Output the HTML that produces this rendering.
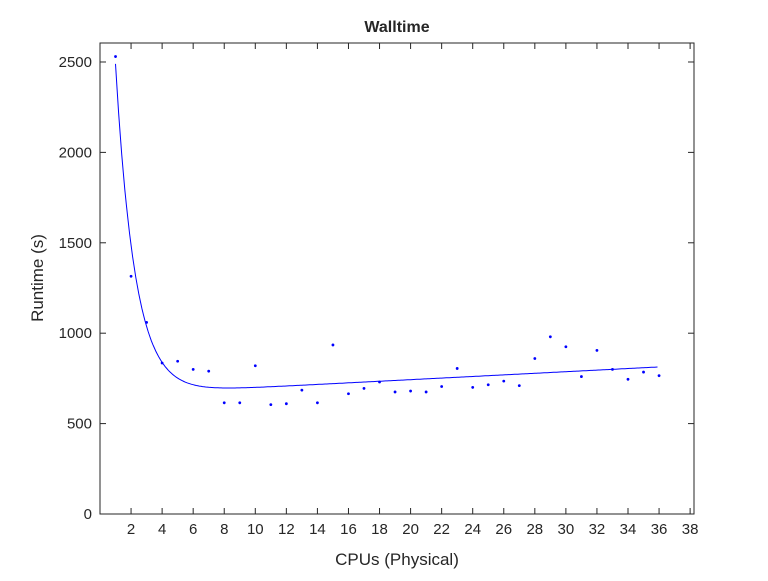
<!DOCTYPE html>
<html><head><meta charset="utf-8"><style>
html,body{margin:0;padding:0;background:#fff;}
svg text{font-family:"Liberation Sans",Arial,sans-serif;fill:#262626;}
</style></head><body>
<svg id="s" width="768" height="576" xmlns="http://www.w3.org/2000/svg">
<rect x="0" y="0" width="768" height="576" fill="#fff"/>
<g id="g"></g>
</svg>
<script>
var L=100,R=694,T=43,B=514;
function X(v){return L+v*(R-L)/38.25;}
function Y(v){return B-v*(B-T)/2605;}
var g=document.getElementById('g'),h='';
h+='<rect x="'+L+'" y="'+T+'" width="'+(R-L)+'" height="'+(B-T)+'" fill="none" stroke="#262626" stroke-width="1"/>';
for(var v=2;v<=38;v+=2){var x=X(v);h+='<line x1="'+x+'" y1="'+B+'" x2="'+x+'" y2="'+(B-6)+'" stroke="#262626"/><line x1="'+x+'" y1="'+T+'" x2="'+x+'" y2="'+(T+6)+'" stroke="#262626"/><text x="'+x+'" y="'+(B+20)+'" font-size="15" text-anchor="middle">'+v+'</text>';}
for(var v=0;v<=2500;v+=500){var y=Y(v);h+='<line x1="'+L+'" y1="'+y+'" x2="'+(L+6)+'" y2="'+y+'" stroke="#262626"/><line x1="'+R+'" y1="'+y+'" x2="'+(R-6)+'" y2="'+y+'" stroke="#262626"/><text x="'+(L-8)+'" y="'+(y+5)+'" font-size="15" text-anchor="end">'+v+'</text>';}
var d=[2530,1315,1060,835,845,800,790,615,615,820,605,610,685,615,935,665,695,730,675,680,675,705,805,700,715,735,710,860,980,925,760,905,800,745,785,765];
var p=[];for(var x=1;x<=36;x+=0.1){var f=1830*Math.exp(-0.8*(x-1))+655+4.4*x;p.push(X(x).toFixed(1)+','+Y(f).toFixed(1));}
h+='<polyline points="'+p.join(' ')+'" fill="none" stroke="#0000ff" stroke-width="1"/>';
for(var i=0;i<d.length;i++){h+='<circle cx="'+X(i+1)+'" cy="'+Y(d[i])+'" r="1.4" fill="#0000ff"/>';}
h+='<text x="397" y="32" font-size="16" font-weight="bold" text-anchor="middle" fill="#000">Walltime</text>';
h+='<text x="397" y="565" font-size="17" text-anchor="middle">CPUs (Physical)</text>';
h+='<text transform="translate(43,278) rotate(-90)" font-size="17" text-anchor="middle">Runtime (s)</text>';
g.innerHTML=h;
</script>
</body></html>
